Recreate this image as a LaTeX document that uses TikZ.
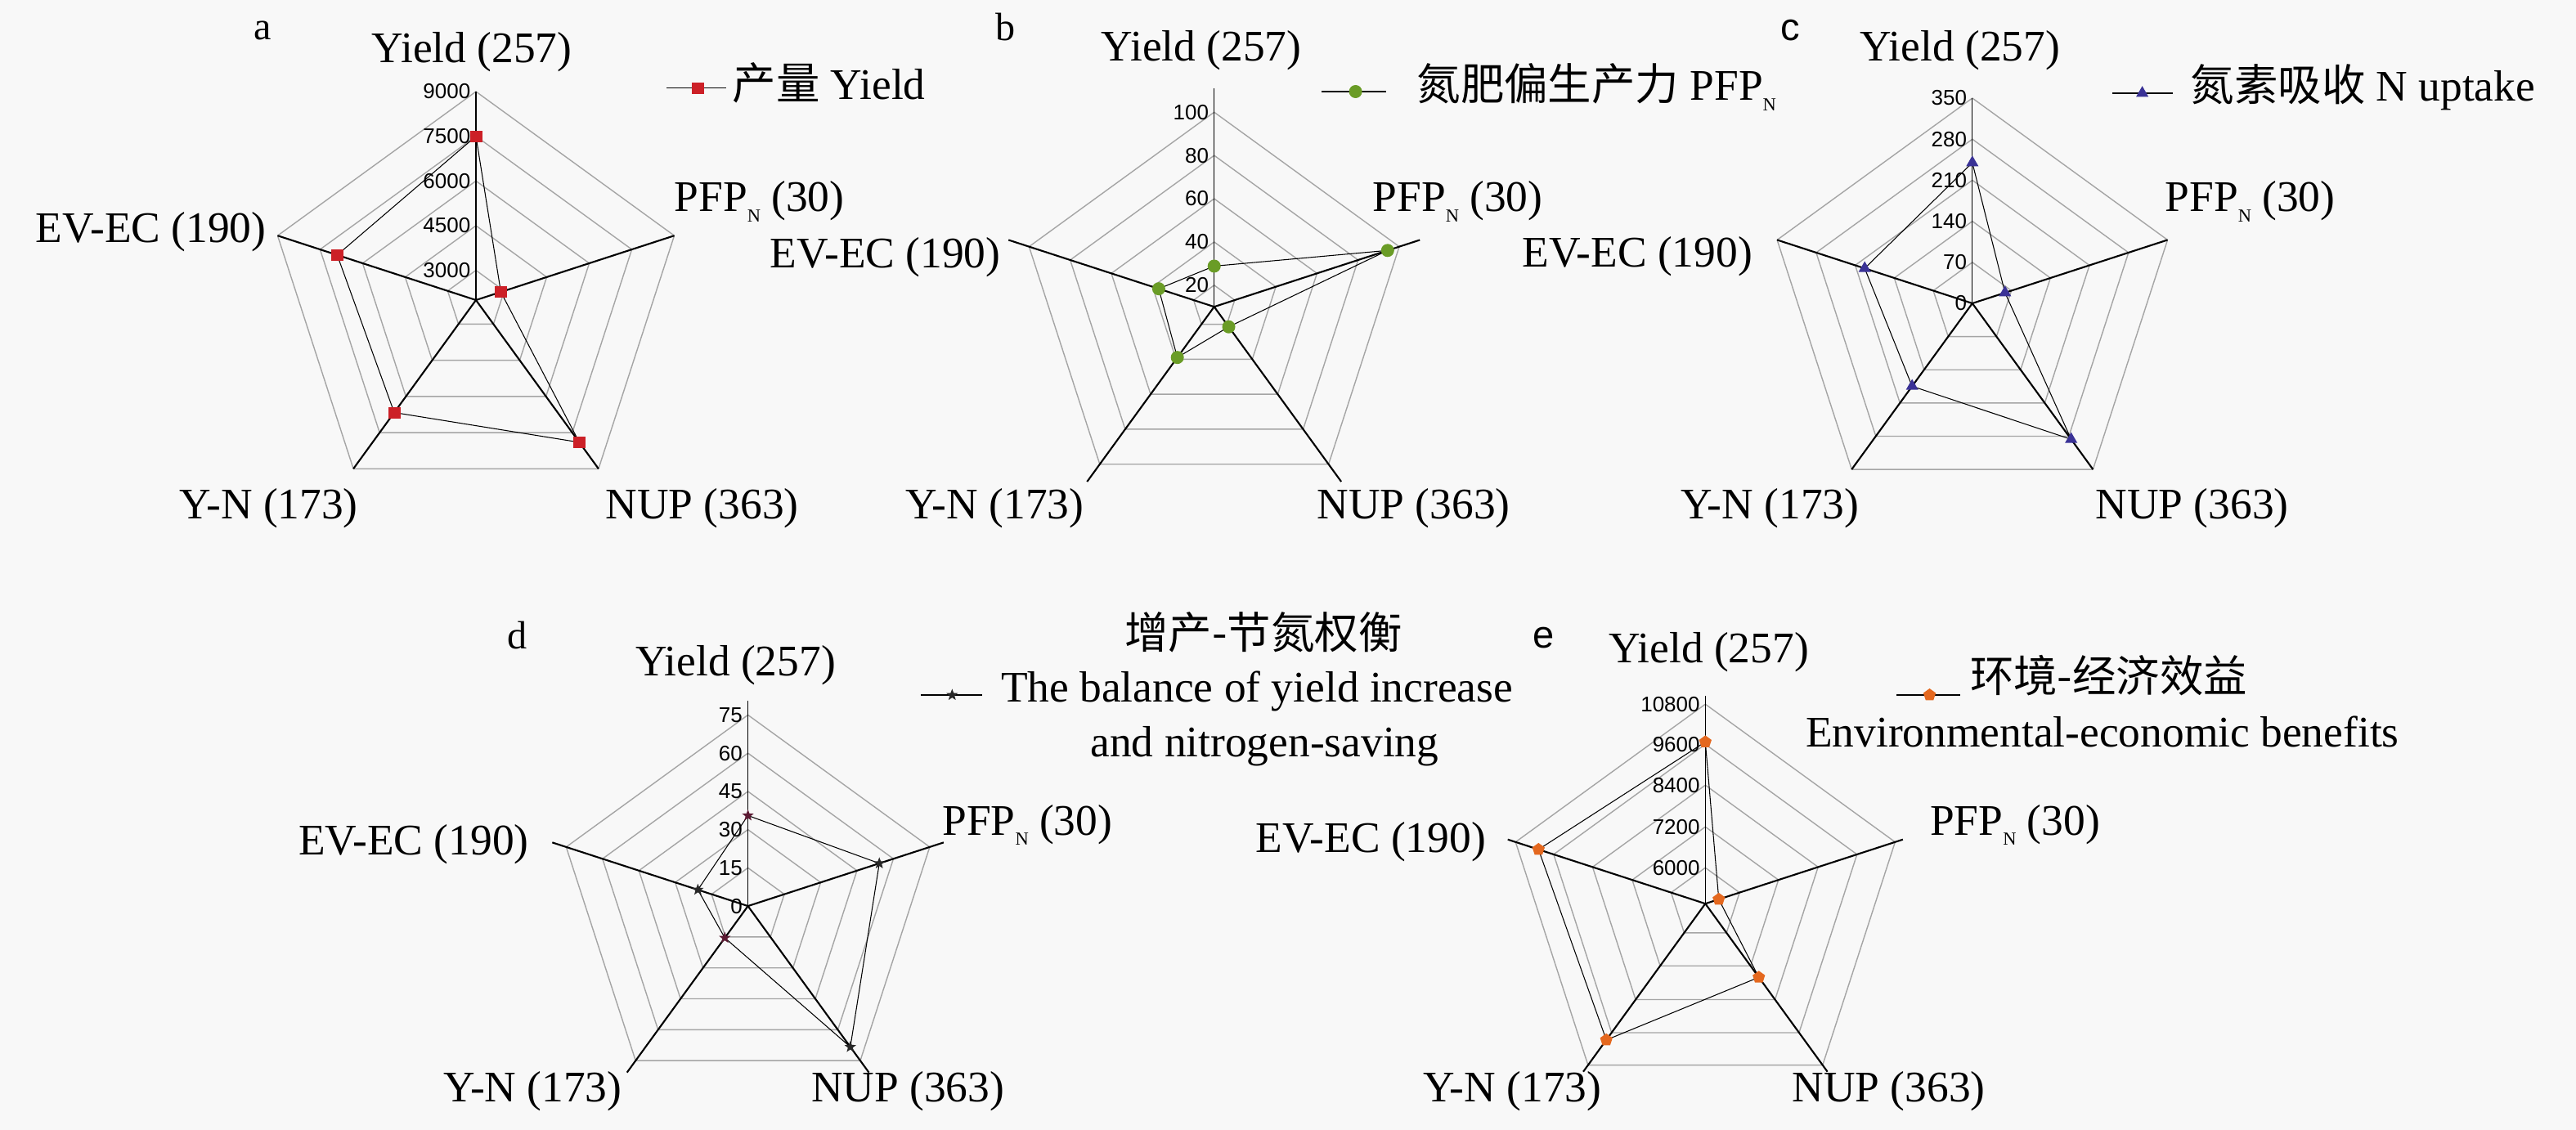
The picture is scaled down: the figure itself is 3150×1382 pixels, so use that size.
\documentclass[tikz,border=0pt]{standalone}
\usepackage{fontspec}
\setmainfont{Liberation Serif}
\newfontfamily\cjk{Noto Sans CJK SC}
\newfontfamily\arialf{Liberation Sans}
\usetikzlibrary{shapes.geometric}
\definecolor{bgc}{RGB}{248,248,248}
\definecolor{ringc}{RGB}{165,165,165}
\definecolor{mred}{RGB}{204,32,39}
\definecolor{mgreen}{RGB}{106,156,38}
\definecolor{mblue}{RGB}{58,50,150}
\definecolor{mstar}{RGB}{40,40,40}
\definecolor{mmaroon}{RGB}{92,26,51}
\definecolor{morange}{RGB}{228,104,31}
\newcommand\subN{\raisebox{-0.23em}{\fontsize{6.4}{7}\selectfont N}}
\tikzset{
  lab/.style={font=\fontsize{15.2}{18}\selectfont, inner sep=0pt},
  ticklab/.style={font=\arialf\fontsize{7.4}{9}\selectfont, inner sep=0pt, anchor=east},
  letter/.style={font=\fontsize{13.7}{16}\selectfont, inner sep=0pt, anchor=base},
  sletter/.style={font=\arialf\fontsize{13.4}{16}\selectfont, inner sep=0pt, anchor=base},
  ring/.style={draw=ringc, line width=0.4pt, line join=round},
  raxis/.style={draw=black, line width=0.6pt},
  vaxis/.style={draw=black, line width=0.35pt},
  dline/.style={draw=black, line width=0.3pt, line join=round},
  legline/.style={draw=black, line width=0.3pt},
  sqm/.style={rectangle, fill=mred, minimum width=1.5mm, minimum height=1.4mm, inner sep=0pt},
  cim/.style={circle, fill=mgreen, minimum size=1.6mm, inner sep=0pt},
  trm/.style={regular polygon, regular polygon sides=3, fill=mblue, minimum size=1.75mm, inner sep=0pt},
  stm/.style={star, star points=5, star point ratio=2.4, fill=mstar, minimum size=1.5mm, inner sep=0pt},
  pem/.style={regular polygon, regular polygon sides=5, fill=morange, minimum size=1.6mm, inner sep=0pt},
}
\begin{document}
\begin{tikzpicture}[x=0.1mm, y=-0.1mm]
\fill[bgc] (0,0) rectangle (3150,1382);
\useasboundingbox (0,0) rectangle (3150,1382);

% ---------------- chart a ----------------
\begin{scope}[shift={(582,367)}]
  \foreach \r in {36.4,91,145.7,200.4,255}
    \draw[ring] (-90:\r) -- (-18:\r) -- (54:\r) -- (126:\r) -- (198:\r) -- cycle;
  \foreach \a in {-18,54,126,198} \draw[raxis] (0,0) -- (\a:255);
  \draw[vaxis] (0,0) -- (-90:255);
  \foreach \r/\t in {36.4/3000,91/4500,145.7/6000,200.4/7500,255/9000}
    \node[ticklab] (a-t\t) at (-6,-\r) {\t};
  \draw[dline] (-90:200.4) -- (-18:32) -- (54:215) -- (126:170) -- (198:178.4) -- cycle;
  \foreach \a/\r [count=\i] in {-90/200.4,-18/32,54/215,126/170,198/178.4}
    \node[sqm] (a-m\i) at (\a:\r) {};
\end{scope}
\node[letter] (a-let) at (321,49) {a};
\node[lab, anchor=base] (a-yield) at (577,76.7) {Yield (257)};
\node[lab, anchor=base west] (a-pfp) at (824,259) {PFP\subN{} (30)};
\node[lab, anchor=base east] (a-evec) at (326,296.4) {EV-EC (190)};
\node[lab, anchor=base east] (a-yn) at (438.5,634) {Y-N (173)};
\node[lab, anchor=base west] (a-nup) at (740,634) {NUP (363)};
\draw[legline] (815,107.7) -- (888,107.7);
\node[sqm] (a-legm) at (853,107.7) {};
\node[lab, anchor=base west] (a-legt) at (895,122) {{\cjk 产量} Yield};

% ---------------- chart b ----------------
\begin{scope}[shift={(1484.7,375.2)}]
  \foreach \r in {26.4,79.3,132.2,185.1,238}
    \draw[ring] (-90:\r) -- (-18:\r) -- (54:\r) -- (126:\r) -- (198:\r) -- cycle;
  \foreach \a in {-18,54,126,198} \draw[raxis] (0,0) -- (\a:264.4);
  \draw[vaxis] (0,0) -- (-90:267);
  \foreach \r/\t in {26.4/20,79.3/40,132.2/60,185.1/80,238/100}
    \node[ticklab] (b-t\t) at (-6,-\r) {\t};
  \draw[dline] (-90:49.75) -- (-18:223) -- (54:30.3) -- (126:76.6) -- (198:71.3) -- cycle;
  \foreach \a/\r [count=\i] in {-90/49.75,-18/223,54/30.3,126/76.6,198/71.3}
    \node[cim] (b-m\i) at (\a:\r) {};
\end{scope}
\node[letter] (b-let) at (1229.5,49.8) {b};
\node[lab, anchor=base] (b-yield) at (1469,74.6) {Yield (257)};
\node[lab, anchor=base west] (b-pfp) at (1678,259) {PFP\subN{} (30)};
\node[lab, anchor=base east] (b-evec) at (1224,327.5) {EV-EC (190)};
\node[lab, anchor=base east] (b-yn) at (1326,634) {Y-N (173)};
\node[lab, anchor=base west] (b-nup) at (1610,634) {NUP (363)};
\draw[legline] (1616,112) -- (1695,112);
\node[cim] (b-legm) at (1657.6,112) {};
\node[lab, anchor=base west] (b-legt) at (1732,123) {{\cjk 氮肥偏生产力} PFP\subN};

% ---------------- chart c ----------------
\begin{scope}[shift={(2411.8,371)}]
  \foreach \r in {50.2,100.4,150.6,200.8,251}
    \draw[ring] (-90:\r) -- (-18:\r) -- (54:\r) -- (126:\r) -- (198:\r) -- cycle;
  \foreach \a in {-18,54,126,198} \draw[raxis] (0,0) -- (\a:251);
  \draw[vaxis] (0,0) -- (-90:251);
  \foreach \r/\t in {0/0,50.2/70,100.4/140,150.6/210,200.8/280,251/350}
    \node[ticklab] (c-t\t) at (-6,-\r) {\t};
  \draw[dline] (-90:172) -- (-18:42) -- (54:205.6) -- (126:125.3) -- (198:138.4) -- cycle;
  \foreach \a/\r [count=\i] in {-90/172,-18/42,54/205.6,126/125.3,198/138.4}
    \node[trm] (c-m\i) at (\a:\r) {};
\end{scope}
\node[sletter] (c-let) at (2189,49.8) {c};
\node[lab, anchor=base] (c-yield) at (2396.7,74.6) {Yield (257)};
\node[lab, anchor=base west] (c-pfp) at (2647,259) {PFP\subN{} (30)};
\node[lab, anchor=base east] (c-evec) at (2143.5,327) {EV-EC (190)};
\node[lab, anchor=base east] (c-yn) at (2274,634) {Y-N (173)};
\node[lab, anchor=base west] (c-nup) at (2562,634) {NUP (363)};
\draw[legline] (2583,114) -- (2657,114);
\node[trm] (c-legm) at (2619.6,114) {};
\node[lab, anchor=base west] (c-legt) at (2678,123.3) {{\cjk 氮素吸收} N uptake};

% ---------------- chart d ----------------
\begin{scope}[shift={(914.6,1108.1)}]
  \foreach \r in {46.75,93.5,140.2,187,233.7}
    \draw[ring] (-90:\r) -- (-18:\r) -- (54:\r) -- (126:\r) -- (198:\r) -- cycle;
  \foreach \a in {-18,54,126,198} \draw[raxis] (0,0) -- (\a:251.6);
  \draw[vaxis] (0,0) -- (-90:251.6);
  \foreach \r/\t in {0/0,46.75/15,93.5/30,140.2/45,187/60,233.7/75}
    \node[ticklab] (d-t\t) at (-6,-\r) {\t};
  \draw[dline] (-90:110.7) -- (-18:168.9) -- (54:213) -- (126:48.1) -- (198:64.4) -- cycle;
  \node[stm, fill=mmaroon] (d-m1) at (-90:110.7) {};
  \node[stm] (d-m2) at (-18:168.9) {};
  \node[stm] (d-m3) at (54:213) {};
  \node[stm, fill=mmaroon] (d-m4) at (126:48.1) {};
  \node[stm] (d-m5) at (198:64.4) {};
\end{scope}
\node[letter] (d-let) at (632.7,793) {d};
\node[lab, anchor=base] (d-yield) at (899.5,826.2) {Yield (257)};
\node[lab, anchor=base west] (d-pfp) at (1151.7,1021.7) {PFP\subN{} (30)};
\node[lab, anchor=base east] (d-evec) at (647.2,1045) {EV-EC (190)};
\node[lab, anchor=base east] (d-yn) at (761.2,1347.7) {Y-N (173)};
\node[lab, anchor=base west] (d-nup) at (991.3,1347.7) {NUP (363)};
\node[lab, anchor=base] (d-title) at (1545,793) {\cjk 增产-节氮权衡};
\draw[legline] (1125.8,850) -- (1200.5,850);
\node[stm] (d-legm) at (1164.3,850) {};
\node[lab, anchor=base west] (d-legt1) at (1223.4,858.3) {The balance of yield increase};
\node[lab, anchor=base] (d-legt2) at (1546.4,925) {and nitrogen-saving};

% ---------------- chart e ----------------
\begin{scope}[shift={(2085.3,1105.2)}]
  \foreach \r in {44,94,145,195,244}
    \draw[ring] (-90:\r) -- (-18:\r) -- (54:\r) -- (126:\r) -- (198:\r) -- cycle;
  \foreach \a in {-18,54,126,198} \draw[raxis] (0,0) -- (\a:254);
  \draw[vaxis] (0,0) -- (-90:254);
  \foreach \r/\t in {44/6000,94/7200,145/8400,195/9600,244/10800}
    \node[ticklab] (e-t\t) at (-6,-\r) {\t};
  \draw[dline] (-90:197.8) -- (-18:17.3) -- (54:111.3) -- (126:206) -- (198:214.5) -- cycle;
  \foreach \a/\r [count=\i] in {-90/197.8,-18/17.3,54/111.3,126/206,198/214.5}
    \node[pem] (e-m\i) at (\a:\r) {};
\end{scope}
\node[sletter] (e-let) at (1887.4,792.2) {e};
\node[lab, anchor=base] (e-yield) at (2089.5,810.8) {Yield (257)};
\node[lab, anchor=base west] (e-pfp) at (2359.5,1021.7) {PFP\subN{} (30)};
\node[lab, anchor=base east] (e-evec) at (1817.6,1042) {EV-EC (190)};
\node[lab, anchor=base east] (e-yn) at (1959,1347.7) {Y-N (173)};
\node[lab, anchor=base west] (e-nup) at (2191,1347.7) {NUP (363)};
\draw[legline] (2319.3,850) -- (2396.8,850);
\node[pem] (e-legm) at (2359.5,850) {};
\node[lab, anchor=base west] (e-legt1) at (2408.3,846) {\cjk 环境-经济效益};
\node[lab, anchor=base west] (e-legt2) at (2207.4,913.3) {Environmental-economic benefits};
\end{tikzpicture}
\end{document}
